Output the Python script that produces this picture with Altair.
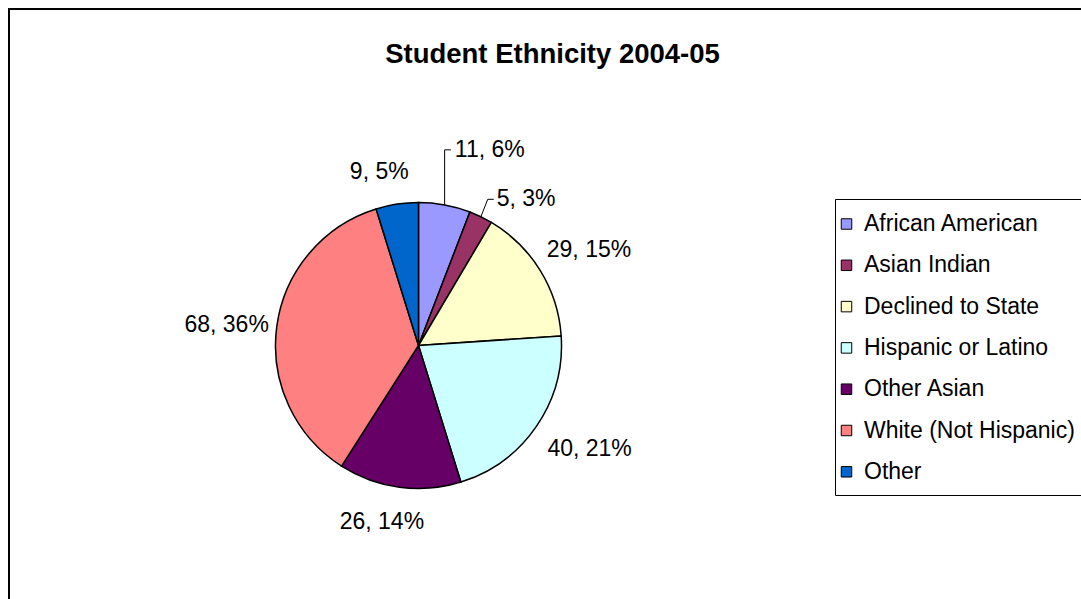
import altair as alt
import pandas as pd
import numpy as np

# ---- data ----
categories = ["African American", "Asian Indian", "Declined to State",
              "Hispanic or Latino", "Other Asian", "White (Not Hispanic)", "Other"]
counts = [11, 5, 29, 40, 26, 68, 9]
colors = ["#9999FF", "#993366", "#FFFFCC", "#CCFFFF", "#660066", "#FF8080", "#0066CC"]
title_text = "Student Ethnicity 2004-05"

# ---- layout ----
W, H = 1081, 599
CX, CY, R = 418.5, 345.5, 143
FONT = "Liberation Sans"
TOTAL = sum(counts)

# label placement: radius from centre, alignment, small nudges
LABEL_LAYOUT = {
    "African American": dict(r=199, align="left", dx=0, dy=0),
    "Asian Indian": dict(r=168, align="left", dx=5, dy=5),
    "Declined to State": dict(r=160, align="left", dx=-8, dy=-12),
    "Hispanic or Latino": dict(r=160, align="left", dx=-3, dy=13),
    "Other Asian": dict(r=177, align="center", dx=-13, dy=1),
    "White (Not Hispanic)": dict(r=151, align="right", dx=0, dy=0),
    "Other": dict(r=175, align="center", dx=-13, dy=0),
}

df = pd.DataFrame({"category": categories, "count": counts, "idx": list(range(len(categories)))})

color = alt.Color(
    "category:N",
    scale=alt.Scale(domain=categories, range=colors),
    sort=categories,
    legend=alt.Legend(
        orient="none", legendX=835, legendY=212.5, title=None,
        symbolType="square", symbolSize=110, symbolStrokeColor="black",
        symbolStrokeWidth=1, labelFont=FONT, labelFontSize=23, labelColor="black",
        labelOffset=6, rowPadding=17.3, padding=0, labelLimit=400,
    ),
)

theta_scale = alt.Scale(domain=[0, TOTAL])

arcs = alt.Chart(df).mark_arc(radius=R, stroke="black", strokeWidth=1.5).encode(
    theta=alt.Theta("count:Q", stack=True, scale=theta_scale),
    color=color,
    order=alt.Order("idx:Q"),
    x=alt.value(CX),
    y=alt.value(CY),
)


def label_layer(cat):
    lay = LABEL_LAYOUT[cat]
    return (
        alt.Chart(df)
        .transform_window(cum="sum(count)", sort=[alt.SortField("idx")], frame=[None, 0])
        .transform_joinaggregate(total="sum(count)")
        .transform_calculate(
            mid="datum.cum - datum.count / 2",
            label="datum.count + ', ' + round(100 * datum.count / datum.total) + '%'",
        )
        .transform_filter(alt.datum.category == cat)
        .mark_text(radius=lay["r"], align=lay["align"], baseline="middle",
                   dx=lay["dx"], dy=lay["dy"], font=FONT, fontSize=23, color="black")
        .encode(
            theta=alt.Theta("mid:Q", stack=None, scale=theta_scale),
            text="label:N",
            x=alt.value(CX),
            y=alt.value(CY),
        )
    )


labels = [label_layer(c) for c in categories]

# leader lines for the two labels that were pulled away from their slices
cum = np.cumsum(counts)
mid = cum - np.array(counts) / 2
ang = mid / TOTAL * 2 * np.pi
segs = []
for i, cat in enumerate(categories[:2]):
    lay = LABEL_LAYOUT[cat]
    ex, ey = CX + R * np.sin(ang[i]), CY - R * np.cos(ang[i])
    lx = CX + lay["r"] * np.sin(ang[i]) + lay["dx"]
    ly = CY - lay["r"] * np.cos(ang[i]) + lay["dy"]
    if i == 0:
        segs.append((ex, ey, ex, ly))
        segs.append((ex, ly, lx - 4, ly))
    else:
        segs.append((ex, ey, lx - 9, ly))
        segs.append((lx - 9, ly, lx - 3, ly))
leaders_df = pd.DataFrame(segs, columns=["x1", "y1", "x2", "y2"])
leaders = alt.Chart(leaders_df).mark_rule(color="black", strokeWidth=1).encode(
    x=alt.X("x1:Q", scale=None, axis=None),
    y=alt.Y("y1:Q", scale=None, axis=None),
    x2="x2:Q",
    y2="y2:Q",
)

one = pd.DataFrame({"k": [0]})
border = alt.Chart(one).mark_rect(filled=False, stroke="black", strokeWidth=2, clip=True).encode(
    x=alt.value(9), y=alt.value(9), x2=alt.value(W + 20), y2=alt.value(H + 20)
)
legend_box = alt.Chart(one).mark_rect(filled=False, stroke="black", strokeWidth=1, clip=True).encode(
    x=alt.value(835.5), y=alt.value(199.5), x2=alt.value(W + 20), y2=alt.value(495.5)
)

chart = alt.layer(border, arcs, leaders, *labels, legend_box).properties(
    width=W,
    height=H,
    autosize=alt.AutoSizeParams(type="none"),
    padding=0,
    background="white",
    title=alt.Title(title_text, font=FONT, fontSize=27.5, fontWeight="bold",
                    color="black", anchor="middle", dx=12, dy=90, offset=0,
                    baseline="alphabetic"),
).configure_view(strokeWidth=0)

chart.save("out.html", embed_options={"renderer": "svg", "actions": False})
